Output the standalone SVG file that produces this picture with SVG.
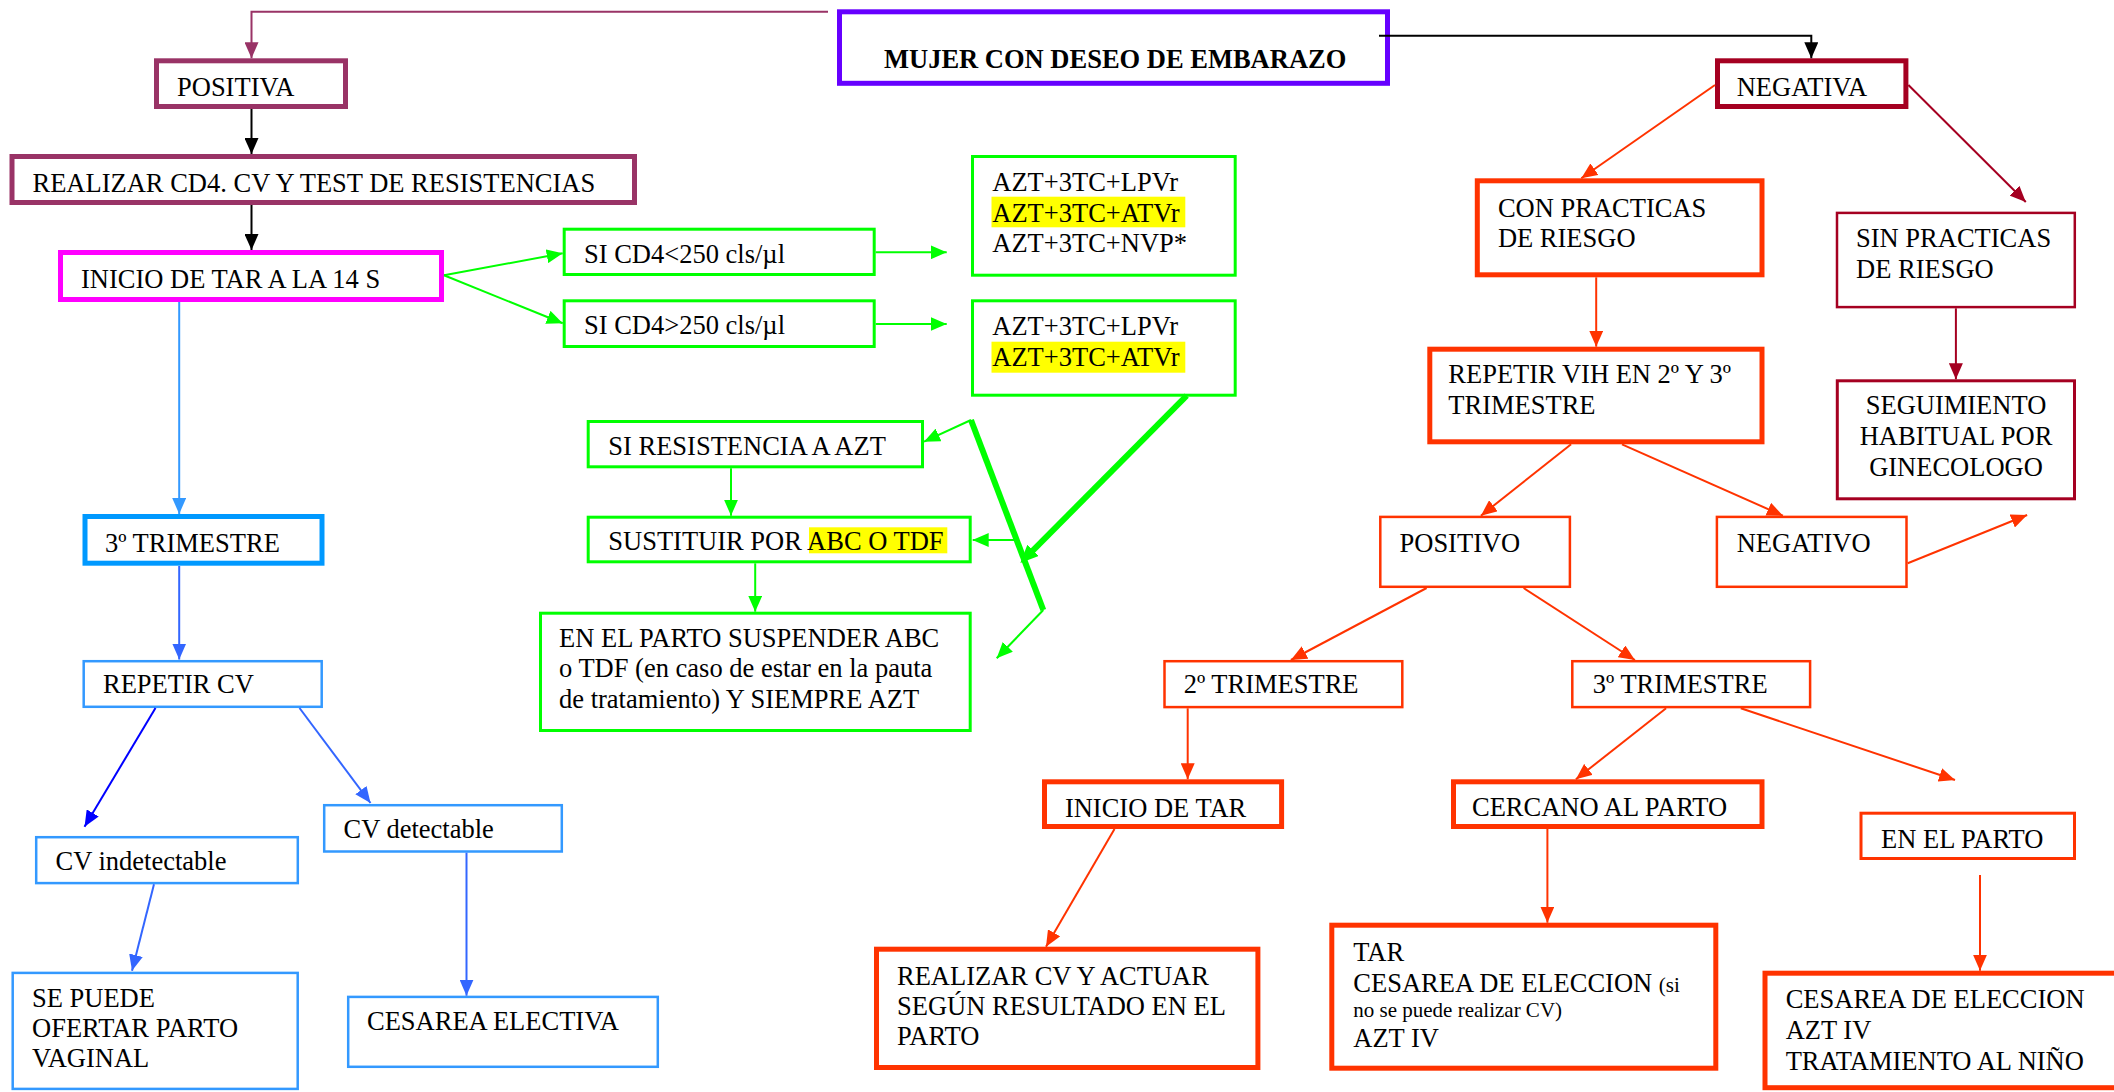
<svg xmlns="http://www.w3.org/2000/svg" width="2114" height="1092" viewBox="0 0 2114 1092">
<style>
text{font-family:"Liberation Serif","Times New Roman",serif;font-size:26.5px;fill:#000}
.bold{font-weight:bold}
.sm{font-size:21px}
.mid{text-anchor:middle}
rect.box{fill:#fff}
.hl{fill:#FFFF00;stroke:none}
.pur{stroke:#6600FF}
.mar{stroke:#993366}
.mag{stroke:#FF00FF}
.grn{stroke:#00FF00}
.lb{stroke:#0099FF}
.lb2{stroke:#3399FF}
.red{stroke:#FF3300}
.crm{stroke:#A50021}
.w5{stroke-width:5}
.w3{stroke-width:3}
.w25{stroke-width:2.5}
#connectors path,#connectors line,#connectors polyline{fill:none;stroke-width:2}
</style>
<defs>
<marker id="aK" markerUnits="userSpaceOnUse" markerWidth="16" markerHeight="14" refX="16" refY="7" orient="auto" viewBox="0 0 16 14"><path d="M0,0 L16,7 L0,14 z" fill="#000"/></marker>
<marker id="aM" markerUnits="userSpaceOnUse" markerWidth="16" markerHeight="14" refX="16" refY="7" orient="auto" viewBox="0 0 16 14"><path d="M0,0 L16,7 L0,14 z" fill="#993366"/></marker>
<marker id="aG" markerUnits="userSpaceOnUse" markerWidth="16" markerHeight="14" refX="16" refY="7" orient="auto" viewBox="0 0 16 14"><path d="M0,0 L16,7 L0,14 z" fill="#00FF00"/></marker>
<marker id="aGt" markerUnits="userSpaceOnUse" markerWidth="18" markerHeight="16" refX="6" refY="8" orient="auto" viewBox="0 0 18 16"><path d="M0,0 L18,8 L0,16 z" fill="#00FF00"/></marker>
<marker id="aB1" markerUnits="userSpaceOnUse" markerWidth="16" markerHeight="14" refX="16" refY="7" orient="auto" viewBox="0 0 16 14"><path d="M0,0 L16,7 L0,14 z" fill="#3399FF"/></marker>
<marker id="aB2" markerUnits="userSpaceOnUse" markerWidth="16" markerHeight="14" refX="16" refY="7" orient="auto" viewBox="0 0 16 14"><path d="M0,0 L16,7 L0,14 z" fill="#3366FF"/></marker>
<marker id="aB3" markerUnits="userSpaceOnUse" markerWidth="16" markerHeight="14" refX="16" refY="7" orient="auto" viewBox="0 0 16 14"><path d="M0,0 L16,7 L0,14 z" fill="#0000FF"/></marker>
<marker id="aR" markerUnits="userSpaceOnUse" markerWidth="16" markerHeight="14" refX="16" refY="7" orient="auto" viewBox="0 0 16 14"><path d="M0,0 L16,7 L0,14 z" fill="#FF3300"/></marker>
<marker id="aC" markerUnits="userSpaceOnUse" markerWidth="16" markerHeight="14" refX="16" refY="7" orient="auto" viewBox="0 0 16 14"><path d="M0,0 L16,7 L0,14 z" fill="#A50021"/></marker>
</defs>
<rect width="2114" height="1092" fill="#fff"/>

<g id="n-mujer"><rect class="box pur w5" x="839.5" y="11.8" width="548" height="71.5"/><text class="bold" x="884" y="68">MUJER CON DESEO DE EMBARAZO</text></g>
<g id="n-positiva"><rect class="box mar w5" x="156.5" y="60.8" width="189" height="45.7"/><text x="177" y="96">POSITIVA</text></g>
<g id="n-realizar"><rect class="box mar w5" x="12" y="156.5" width="622.5" height="46"/><text x="32.5" y="192">REALIZAR CD4. CV Y TEST DE RESISTENCIAS</text></g>
<g id="n-inicio14"><rect class="box mag w5" x="60.5" y="252.5" width="381" height="47"/><text x="81" y="288">INICIO DE TAR A LA 14 S</text></g>
<g id="n-cd4lt"><rect class="box grn w3" x="564.2" y="229.2" width="310" height="45.3"/><text x="584" y="262.5">SI CD4&lt;250 cls/µl</text></g>
<g id="n-cd4gt"><rect class="box grn w3" x="564.2" y="300.8" width="310" height="45.7"/><text x="584" y="333.5">SI CD4&gt;250 cls/µl</text></g>
<g id="n-azt1"><rect class="box grn w3" x="972.5" y="156.5" width="262.7" height="118.7"/><rect class="hl" x="991.5" y="196.7" width="193.8" height="30.6"/><text x="992.3" y="190.7">AZT+3TC+LPVr</text><text x="992.3" y="221.7">AZT+3TC+ATVr</text><text x="992.3" y="251.7">AZT+3TC+NVP*</text></g>
<g id="n-azt2"><rect class="box grn w3" x="972.5" y="300.8" width="262.7" height="94.4"/><rect class="hl" x="991.5" y="341.7" width="193.8" height="31"/><text x="992.3" y="335">AZT+3TC+LPVr</text><text x="992.3" y="366">AZT+3TC+ATVr</text></g>
<g id="n-resist"><rect class="box grn w3" x="588.2" y="421.5" width="334.3" height="45.3"/><text x="608.3" y="455">SI RESISTENCIA A AZT</text></g>
<g id="n-sustituir"><rect class="box grn w3" x="588.2" y="517.2" width="382" height="44.6"/><rect class="hl" x="809" y="527.3" width="138.3" height="26"/><text x="608.3" y="550">SUSTITUIR POR ABC O TDF</text></g>
<g id="n-suspender"><rect class="box grn w3" x="540.5" y="613.2" width="429.7" height="117.3"/><text x="559" y="646.7">EN EL PARTO SUSPENDER ABC</text><text x="559" y="676.7">o TDF (en caso de estar en la pauta</text><text x="559" y="707.7">de tratamiento) Y SIEMPRE AZT</text></g>

<g id="n-3trim-l"><rect class="box lb w5" x="85" y="516.5" width="237" height="46.7"/><text x="105" y="552">3º TRIMESTRE</text></g>
<g id="n-repetircv"><rect class="box lb2 w25" x="83.7" y="661.2" width="238" height="45.6"/><text x="103" y="693">REPETIR CV</text></g>
<g id="n-cvind"><rect class="box lb2 w25" x="36.2" y="837.2" width="261.6" height="45.9"/><text x="55.5" y="870">CV indetectable</text></g>
<g id="n-cvdet"><rect class="box lb2 w25" x="324.2" y="805.2" width="237.6" height="46.3"/><text x="343.5" y="838">CV detectable</text></g>
<g id="n-sepuede"><rect class="box lb2 w25" x="12.7" y="972.9" width="285" height="116"/><text x="32" y="1006.7">SE PUEDE</text><text x="32" y="1036.7">OFERTAR PARTO</text><text x="32" y="1067.3">VAGINAL</text></g>
<g id="n-cesareaelec"><rect class="box lb2 w25" x="348.2" y="996.9" width="309.6" height="69.9"/><text x="367" y="1030">CESAREA ELECTIVA</text></g>

<g id="n-negativa"><rect class="box crm w5" x="1717.5" y="60.8" width="188.4" height="45.7"/><text x="1736.7" y="96">NEGATIVA</text></g>
<g id="n-con"><rect class="box red w5" x="1477.3" y="180.8" width="284.7" height="94"/><text x="1497.9" y="216.7">CON PRACTICAS</text><text x="1497.9" y="247.3">DE RIESGO</text></g>
<g id="n-sin"><rect class="box crm w25" x="1837" y="212.9" width="237.8" height="94.2"/><text x="1856" y="246.7">SIN PRACTICAS</text><text x="1856" y="277.7">DE RIESGO</text></g>
<g id="n-repvih"><rect class="box red w5" x="1429.8" y="349.2" width="332.2" height="92.6"/><text x="1448.3" y="383.3">REPETIR VIH EN 2º Y 3º</text><text x="1448.3" y="414">TRIMESTRE</text></g>
<g id="n-seguim"><rect class="box crm w3" x="1837.3" y="380.8" width="237.2" height="118"/><text class="mid" x="1956" y="414">SEGUIMIENTO</text><text class="mid" x="1956" y="445">HABITUAL POR</text><text class="mid" x="1956" y="476">GINECOLOGO</text></g>
<g id="n-positivo"><rect class="box red w25" x="1380.3" y="516.9" width="189.6" height="69.9"/><text x="1399.5" y="551.7">POSITIVO</text></g>
<g id="n-negativo"><rect class="box red w25" x="1716.9" y="516.9" width="189.6" height="69.9"/><text x="1736.7" y="551.7">NEGATIVO</text></g>
<g id="n-2trim"><rect class="box red w25" x="1164.5" y="661.2" width="237.8" height="45.9"/><text x="1183.7" y="693.3">2º TRIMESTRE</text></g>
<g id="n-3trim-r"><rect class="box red w25" x="1572.3" y="661.2" width="237.8" height="45.9"/><text x="1592.8" y="693.3">3º TRIMESTRE</text></g>
<g id="n-iniciotar"><rect class="box red w5" x="1044.5" y="781.8" width="237.1" height="44.7"/><text x="1064.9" y="816.7">INICIO DE TAR</text></g>
<g id="n-cercano"><rect class="box red w5" x="1453.5" y="781.8" width="308.5" height="44.7"/><text x="1472" y="816">CERCANO AL PARTO</text></g>
<g id="n-enelparto"><rect class="box red w3" x="1861" y="813.2" width="213.5" height="45.3"/><text x="1881" y="848.3">EN EL PARTO</text></g>
<g id="n-realizarcv"><rect class="box red w5" x="876.5" y="949.2" width="381.4" height="118.3"/><text x="897" y="985">REALIZAR CV Y ACTUAR</text><text x="897" y="1015">SEGÚN RESULTADO EN EL</text><text x="897" y="1045">PARTO</text></g>
<g id="n-tar"><rect class="box red w5" x="1331.8" y="925.2" width="384" height="143"/><text x="1353.3" y="961">TAR</text><text x="1353.3" y="991.7">CESAREA DE ELECCION <tspan class="sm">(si</tspan></text><text class="sm" x="1353.3" y="1017.3">no se puede realizar CV)</text><text x="1353.3" y="1046.7">AZT IV</text></g>
<g id="n-cesareaeleccion"><rect class="box red w5" x="1765" y="973.2" width="400" height="114.5"/><text x="1785.7" y="1008.3">CESAREA DE ELECCION</text><text x="1785.7" y="1039.3">AZT IV</text><text x="1785.7" y="1070">TRATAMIENTO AL NIÑO</text></g>

<g id="connectors">
<polyline points="828,11.7 251.5,11.7 251.5,58.3" stroke="#993366" marker-end="url(#aM)"/>
<polyline points="1379,35.7 1811.3,35.7 1811.3,58.3" stroke="#000" marker-end="url(#aK)"/>
<line x1="251.5" y1="109" x2="251.5" y2="154" stroke="#000" marker-end="url(#aK)"/>
<line x1="251.5" y1="205" x2="251.5" y2="250" stroke="#000" marker-end="url(#aK)"/>
<line x1="444" y1="275.3" x2="562.7" y2="253.3" stroke="#00FF00" marker-end="url(#aG)"/>
<line x1="444" y1="275.3" x2="562.7" y2="323.3" stroke="#00FF00" marker-end="url(#aG)"/>
<line x1="875.7" y1="252.3" x2="946.7" y2="252.3" stroke="#00FF00" stroke-width="3" marker-end="url(#aG)"/>
<line x1="875.7" y1="324" x2="946.7" y2="324" stroke="#00FF00" stroke-width="3" marker-end="url(#aG)"/>
<line x1="731" y1="468.3" x2="731" y2="515.7" stroke="#00FF00" marker-end="url(#aG)"/>
<line x1="755.2" y1="563.3" x2="755.2" y2="611.7" stroke="#00FF00" marker-end="url(#aG)"/>
<line x1="971" y1="420" x2="924" y2="441.7" stroke="#00FF00" marker-end="url(#aG)"/>
<line x1="971" y1="420" x2="1043.3" y2="610" stroke="#00FF00" style="stroke-width:6"/>
<line x1="1043.3" y1="610" x2="996.7" y2="658.3" stroke="#00FF00" marker-end="url(#aG)"/>
<line x1="1186.7" y1="395.7" x2="1028.8" y2="554.6" stroke="#00FF00" style="stroke-width:6" marker-end="url(#aGt)"/>
<line x1="1015" y1="540" x2="972.7" y2="540" stroke="#00FF00" stroke-width="3" marker-end="url(#aG)"/>
<line x1="179.2" y1="302" x2="179.2" y2="514" stroke="#3399FF" marker-end="url(#aB1)"/>
<line x1="179.2" y1="566" x2="179.2" y2="659.5" stroke="#3366FF" marker-end="url(#aB2)"/>
<line x1="155.5" y1="708" x2="84.5" y2="826.7" stroke="#0000FF" marker-end="url(#aB3)"/>
<line x1="299.5" y1="708" x2="370.5" y2="803" stroke="#3366FF" marker-end="url(#aB2)"/>
<line x1="154" y1="884.3" x2="132" y2="970.7" stroke="#3366FF" marker-end="url(#aB2)"/>
<line x1="466.5" y1="852.7" x2="466.5" y2="995.7" stroke="#3366FF" marker-end="url(#aB2)"/>
<line x1="1715" y1="85" x2="1581.3" y2="178.3" stroke="#FF3300" marker-end="url(#aR)"/>
<line x1="1908.4" y1="85" x2="2025.8" y2="202" stroke="#A50021" marker-end="url(#aC)"/>
<line x1="1596.2" y1="277.3" x2="1596.2" y2="346.7" stroke="#FF3300" marker-end="url(#aR)"/>
<line x1="1955.9" y1="308.3" x2="1955.9" y2="379.3" stroke="#A50021" marker-end="url(#aC)"/>
<line x1="1571.1" y1="444.3" x2="1480.9" y2="515.7" stroke="#FF3300" marker-end="url(#aR)"/>
<line x1="1622" y1="444.3" x2="1782.9" y2="515.7" stroke="#FF3300" marker-end="url(#aR)"/>
<line x1="1907.7" y1="563.3" x2="2027.1" y2="515" stroke="#FF3300" marker-end="url(#aR)"/>
<line x1="1426.6" y1="588" x2="1290.9" y2="660" stroke="#FF3300" marker-end="url(#aR)"/>
<line x1="1523.6" y1="588" x2="1634.9" y2="660" stroke="#FF3300" marker-end="url(#aR)"/>
<line x1="1187.7" y1="708.3" x2="1187.7" y2="779.3" stroke="#FF3300" marker-end="url(#aR)"/>
<line x1="1666.1" y1="708.3" x2="1575.9" y2="779.3" stroke="#FF3300" marker-end="url(#aR)"/>
<line x1="1740.8" y1="708.3" x2="1955" y2="780" stroke="#FF3300" marker-end="url(#aR)"/>
<line x1="1114.5" y1="829" x2="1046" y2="946.7" stroke="#FF3300" marker-end="url(#aR)"/>
<line x1="1547.4" y1="829" x2="1547.4" y2="922.7" stroke="#FF3300" marker-end="url(#aR)"/>
<line x1="1980" y1="875" x2="1980" y2="970.7" stroke="#FF3300" marker-end="url(#aR)"/>
</g>
</svg>
